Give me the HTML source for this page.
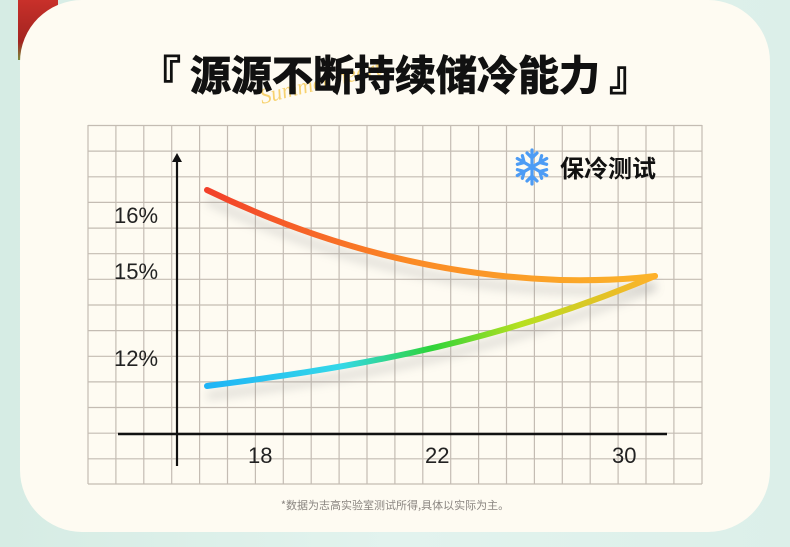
<!DOCTYPE html>
<html><head><meta charset="utf-8"><style>
html,body{margin:0;padding:0;}
body{width:790px;height:547px;overflow:hidden;background:linear-gradient(90deg,#d6ece4,#e2f3ee 50%,#dcefe9);position:relative;font-family:"Liberation Sans","Noto Sans CJK SC",sans-serif;}
.fruit{position:absolute;left:18px;top:0;width:40px;height:60px;background:linear-gradient(180deg,#c8302a,#a32420 70%,#7a8a3a);}
.card{position:absolute;left:20px;top:0;width:750px;height:532px;background:#fefbf2;border-radius:62px;}
svg{position:absolute;left:0;top:0;}
</style></head><body>
<div class="fruit"></div>
<div class="card"></div>
<svg width="790" height="547" viewBox="0 0 790 547">
<defs>
<linearGradient id="up" x1="207" y1="0" x2="655" y2="0" gradientUnits="userSpaceOnUse">
<stop offset="0" stop-color="#f2402a"/><stop offset="0.45" stop-color="#fb8a25"/><stop offset="1" stop-color="#fbb52a"/>
</linearGradient>
<linearGradient id="lo" x1="207" y1="0" x2="655" y2="0" gradientUnits="userSpaceOnUse">
<stop offset="0" stop-color="#1fb4f6"/><stop offset="0.3" stop-color="#34d8e8"/><stop offset="0.5" stop-color="#2ed43a"/><stop offset="0.7" stop-color="#b6e020"/><stop offset="1" stop-color="#ffb02a"/>
</linearGradient>
<filter id="sh" x="-20%" y="-50%" width="140%" height="200%"><feGaussianBlur stdDeviation="5"/></filter>
</defs>
<text x="262" y="104" font-size="22" fill="#f5c23a" font-style="italic" font-family="'Liberation Serif',serif" opacity="0.7" transform="rotate(-14 262 104)">Summer heart</text>
<text x="395" y="90" text-anchor="middle" font-size="41" font-weight="bold" fill="#111" stroke="#111" stroke-width="1" font-family="'Noto Sans CJK SC',sans-serif">『 源源不断持续储冷能力 』</text>
<g stroke="#c4bcb3" stroke-width="1.2" fill="none">
<path d="M88 125.5H702M88 151.1H702M88 176.8H702M88 202.4H702M88 228.1H702M88 253.7H702M88 279.3H702M88 305H702M88 330.6H702M88 356.3H702M88 381.9H702M88 407.5H702M88 433.2H702M88 458.8H702M88 484H702"/>
<path d="M88 125V484M115.9 125V484M143.8 125V484M171.7 125V484M199.6 125V484M227.5 125V484M255.4 125V484M283.3 125V484M311.2 125V484M339.1 125V484M367 125V484M394.9 125V484M422.8 125V484M450.7 125V484M478.6 125V484M506.5 125V484M534.4 125V484M562.3 125V484M590.2 125V484M618.1 125V484M646 125V484M673.9 125V484M702 125V484"/>
</g>
<path d="M207 200 C300 245 420 285 560 290 C610 292 640 288 655 286" stroke="#999" stroke-width="7" fill="none" opacity="0.35" filter="url(#sh)"/>
<path d="M207 396 C330 380 480 360 655 286" stroke="#999" stroke-width="7" fill="none" opacity="0.35" filter="url(#sh)"/>
<line x1="177" y1="160" x2="177" y2="466" stroke="#111" stroke-width="2.2"/>
<path d="M172 162 L177 153 L182 162 Z" fill="#111"/>
<line x1="118" y1="434" x2="667" y2="434" stroke="#111" stroke-width="2.5"/>
<g font-size="22" fill="#222" font-family="'Liberation Sans',sans-serif">
<text x="114" y="223">16%</text><text x="114" y="279">15%</text><text x="114" y="366">12%</text>
<text x="248" y="463">18</text><text x="425" y="463">22</text><text x="612" y="463">30</text>
</g>
<path d="M207 190 C300 235 420 275 560 280 C610 281 640 278 655 276" stroke="url(#up)" stroke-width="6" fill="none" stroke-linecap="round"/>
<path d="M207 386 C330 370 480 350 655 276" stroke="url(#lo)" stroke-width="6" fill="none" stroke-linecap="round"/>
<g transform="translate(532 167)" stroke="#4d9cf5" stroke-width="3.2" stroke-linecap="round" fill="none">
<g id="arm"><path d="M0 0V-17M-5 -14L0 -9L5 -14"/></g>
<use href="#arm" transform="rotate(60)"/><use href="#arm" transform="rotate(120)"/><use href="#arm" transform="rotate(180)"/><use href="#arm" transform="rotate(240)"/><use href="#arm" transform="rotate(300)"/>
</g>
<text x="560" y="177" font-size="24" font-weight="bold" fill="#111" font-family="'Noto Sans CJK SC',sans-serif">保冷测试</text>
<text x="395" y="509" text-anchor="middle" font-size="11" fill="#8a8580" font-family="'Noto Sans CJK SC',sans-serif">*数据为志高实验室测试所得,具体以实际为主。</text>
</svg>
</body></html>
